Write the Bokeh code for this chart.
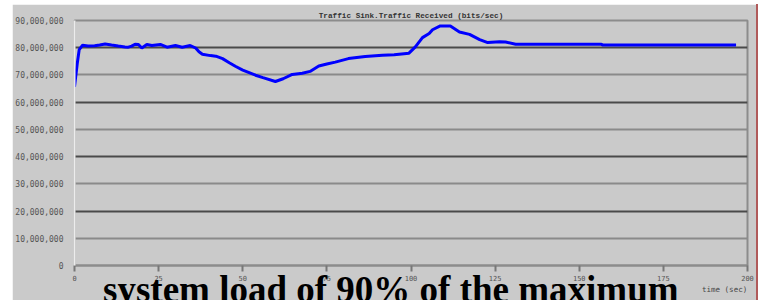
from bokeh.plotting import figure
from bokeh.models import (Range1d, SingleIntervalTicker, FixedTicker, NumeralTickFormatter,
                          Grid, LinearAxis)
from bokeh.embed import file_html
from bokeh.resources import INLINE

# time (sec)
time_s = [0, 0.8, 1.4, 2.4, 4, 6, 7.5, 9.1, 11, 13, 15, 16, 17, 18, 19, 20, 21.5, 23,
          25.5, 27.5, 30, 32, 34.4, 36, 37, 38, 40.4, 42, 44, 46, 47.8, 50, 53.8, 56,
          59.7, 62, 64.7, 67.7, 70, 72.6, 75, 77.5, 81.4, 86.4, 91.5, 95, 99.4, 101.3,
          103.4, 105.4, 106.4, 108.7, 111.7, 114.4, 117.4, 120.4, 122.8, 126.3, 128.1,
          131.1, 156.4, 157, 196.6]
# traffic received (Mbit/s)
traffic_mbps = [65.6, 74, 79.3, 80.9, 80.6, 80.7, 81.0, 81.4, 81.0, 80.6, 80.3, 80.2, 80.6,
                81.3, 81.2, 79.9, 81.2, 80.8, 81.2, 80.2, 80.8, 80.2, 80.8, 79.9, 78.5,
                77.6, 77.1, 76.9, 76.0, 74.5, 73.2, 71.8, 69.9, 69.0, 67.6, 68.6, 70.2,
                70.6, 71.3, 73.3, 74.0, 74.7, 76.0, 76.8, 77.2, 77.4, 78.0, 80.3, 83.7,
                85.2, 86.6, 88.0, 88.0, 85.8, 84.9, 83.0, 81.9, 82.2, 82.1, 81.3, 81.3,
                81.0, 81.0]
title_text = "Traffic Sink.Traffic Received (bits/sec)"
x_label = "time (sec)"
caption = "system load of 90% of the maximum"

traffic = [v * 1e6 for v in traffic_mbps]

BG = "#cacaca"
p = figure(width=739, height=296, output_backend="svg", toolbar_location=None,
           x_range=Range1d(0, 200), y_range=Range1d(0, 90e6),
           frame_width=673, frame_height=245,
           min_border_left=57, min_border_right=9, min_border_top=16, min_border_bottom=35)
p.styles = {"margin-left": "12px", "margin-top": "4px", "border-right": "2px solid #b05a5a"}
p.background_fill_color = BG
p.border_fill_color = BG
p.outline_line_color = "#8c8c8c"
p.outline_line_width = 2

p.title.text = title_text
p.title.align = "center"
p.title.text_font = "Liberation Mono"
p.title.text_font_style = "bold"
p.title.text_font_size = "7.7px"
p.title.text_color = "#333333"
p.title.standoff = 1

p.xgrid.visible = False
p.ygrid.visible = False

# y axis
ya = p.yaxis[0]
ya.ticker = SingleIntervalTicker(interval=10e6)
ya.formatter = NumeralTickFormatter(format="0,0")
ya.major_tick_line_color = None
ya.minor_tick_line_color = None
ya.axis_line_color = "#ececec"
ya.axis_line_width = 2
ya.major_label_standoff = 5
ya.major_label_text_font = "DejaVu Sans Mono"
ya.major_label_text_font_size = "8px"
ya.major_label_text_color = "#555555"

# x axis
xa = p.xaxis[0]
xa.ticker = SingleIntervalTicker(interval=25)
xa.minor_tick_line_color = None
xa.axis_line_color = "#8c8c8c"
xa.axis_line_width = 2
xa.major_tick_line_color = "#777777"
xa.major_tick_line_width = 2
xa.major_tick_out = 6
xa.major_tick_in = 0
xa.major_label_standoff = 3
xa.major_label_text_font = "DejaVu Sans Mono"
xa.major_label_text_font_size = "7px"
xa.major_label_text_color = "#555555"

# alternating grid lines
dark = Grid(dimension=1, ticker=FixedTicker(ticks=[20e6, 40e6, 60e6, 80e6]),
            grid_line_color="#4a4a4a", grid_line_width=2)
light = Grid(dimension=1, ticker=FixedTicker(ticks=[10e6, 30e6, 50e6, 70e6]),
             grid_line_color="#8a8a8a", grid_line_width=2)
top = Grid(dimension=1, ticker=FixedTicker(ticks=[90e6]),
           grid_line_color="#e4e4e4", grid_line_width=2)
for g in (dark, light, top):
    p.add_layout(g)

p.line(time_s, traffic, line_color="#0000ff", line_width=3)


def text_axis(pos, text, standoff, font, size, style, color):
    return LinearAxis(ticker=FixedTicker(ticks=[pos]),
                      major_label_overrides={pos: text},
                      axis_line_color=None, major_tick_line_color=None,
                      minor_tick_line_color=None, major_tick_out=0, major_tick_in=0,
                      minor_tick_out=0, minor_tick_in=0, major_label_standoff=standoff,
                      major_label_text_font=font, major_label_text_font_style=style,
                      major_label_text_font_size=size, major_label_text_color=color)


# x-axis name, lower right
XLABEL_X = 193.2
p.add_layout(text_axis(XLABEL_X, x_label, 1, "DejaVu Sans Mono", "7.5px", "normal",
                       "#444444"), "below")

# caption below the chart
CAPTION_X = 94
p.add_layout(text_axis(CAPTION_X, caption, -28, "Liberation Serif", "37px", "bold",
                       "#000000"), "below")

open("out.html", "w").write(file_html(p, INLINE))
